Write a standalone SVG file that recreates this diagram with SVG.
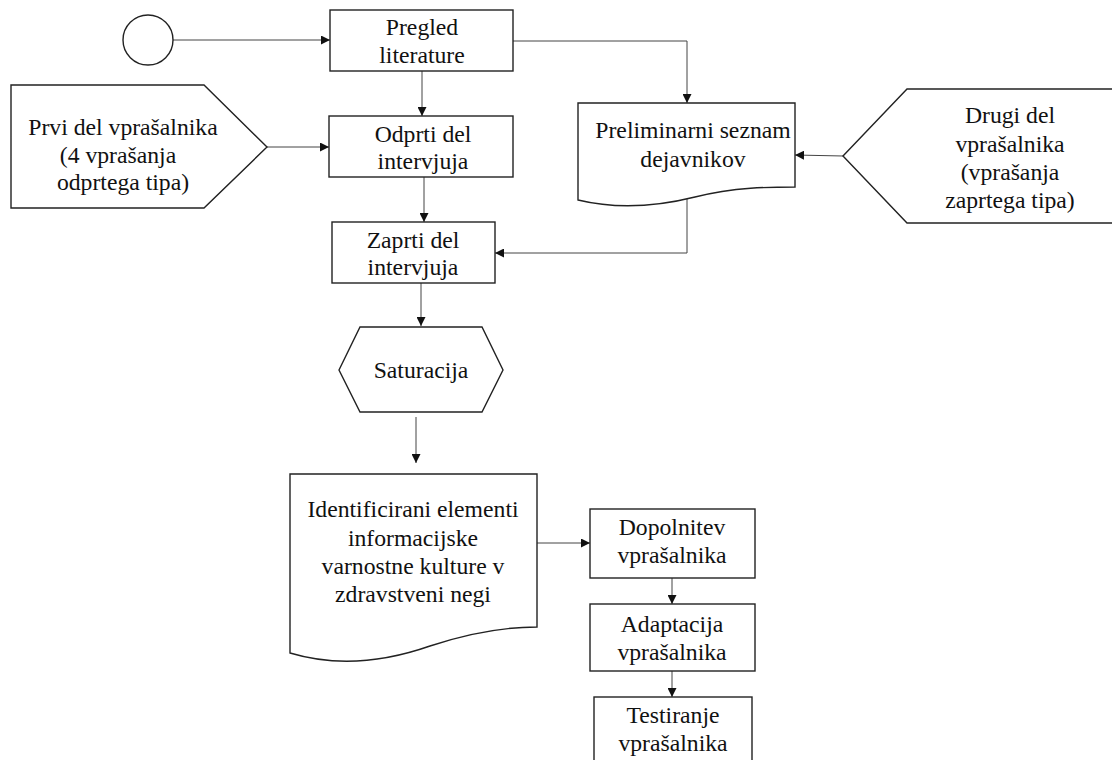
<svg xmlns="http://www.w3.org/2000/svg" width="1112" height="760" viewBox="0 0 1112 760">
  <defs>
    <marker id="arrow" viewBox="0 0 10 10" refX="10" refY="5" markerWidth="9" markerHeight="9" markerUnits="userSpaceOnUse" orient="auto">
      <path d="M0,0 L10,5 L0,10 Z" fill="#111"/>
    </marker>
    <style>
      .shape { fill: #fff; stroke: #222; stroke-width: 1.4; }
      .conn { fill: none; stroke: #444; stroke-width: 1; marker-end: url(#arrow); }
      .lbl { font-family: 'Liberation Serif', 'DejaVu Serif', serif; font-size: 23.7px; fill: #111; text-anchor: middle; }
    </style>
  </defs>
  <rect width="1112" height="760" fill="#fff"/>

  <!-- connectors -->
  <g id="connectors">
    <path class="conn" d="M173,40 L330,40"/>
    <path class="conn" d="M513,41 L687,41 L687,103"/>
    <path class="conn" d="M422,71 L422,116"/>
    <path class="conn" d="M267,147 L329,147"/>
    <path class="conn" d="M843,156 L795,155"/>
    <path class="conn" d="M424,177 L424,222"/>
    <path class="conn" d="M687,197 L687,253 L495,253"/>
    <path class="conn" d="M421,283 L421,326"/>
    <path class="conn" d="M416,417 L416,463"/>
    <path class="conn" d="M537,543 L590,543"/>
    <path class="conn" d="M672,578 L672,604"/>
    <path class="conn" d="M672,671 L672,697"/>
  </g>

  <g class="lbl">
  <!-- start -->
  <g id="start">
    <circle class="shape" cx="148" cy="40" r="25"/>
  </g>

  <g id="pregled">
    <rect class="shape" x="330" y="10" width="183" height="61"/>
    <text x="422" y="35">Pregled</text>
    <text x="422" y="63">literature</text>
  </g>

  <g id="prvi-del">
    <path class="shape" d="M11,85 L204,85 L267,147 L204,208 L11,208 Z"/>
    <text x="123" y="135">Prvi del vprašalnika</text>
    <text x="118" y="163">(4 vprašanja</text>
    <text x="123" y="190">odprtega tipa)</text>
  </g>

  <g id="odprti">
    <rect class="shape" x="329" y="116" width="184" height="61"/>
    <text x="423" y="142">Odprti del</text>
    <text x="423" y="169">intervjuja</text>
  </g>

  <g id="preliminarni">
    <path class="shape" d="M578,103 L795,103 L795,187 C770,187 735,187 695,197 C655,207 615,209 578,200 Z"/>
    <text x="693" y="138">Preliminarni seznam</text>
    <text x="693" y="167">dejavnikov</text>
  </g>

  <g id="drugi-del">
    <path class="shape" d="M843,156 L907,89 L1116,89 L1116,223 L907,223 Z"/>
    <text x="1010" y="123">Drugi del</text>
    <text x="1010" y="152">vprašalnika</text>
    <text x="1010" y="180">(vprašanja</text>
    <text x="1010" y="208">zaprtega tipa)</text>
  </g>

  <g id="zaprti">
    <rect class="shape" x="332" y="222" width="163" height="61"/>
    <text x="413" y="248">Zaprti del</text>
    <text x="413" y="275">intervjuja</text>
  </g>

  <g id="saturacija">
    <path class="shape" d="M339,370 L360,327 L482,327 L503,370 L482,412 L360,412 Z"/>
    <text x="421" y="378">Saturacija</text>
  </g>

  <g id="identificirani">
    <path class="shape" d="M290,474 L537,474 L537,627 C510,627 475,631 430,646 C390,660 340,668 290,653 Z"/>
    <text x="413" y="517">Identificirani elementi</text>
    <text x="413" y="546">informacijske</text>
    <text x="413" y="574">varnostne kulture v</text>
    <text x="413" y="602">zdravstveni negi</text>
  </g>

  <g id="dopolnitev">
    <rect class="shape" x="590" y="509" width="165" height="69"/>
    <text x="672" y="535">Dopolnitev</text>
    <text x="672" y="563">vprašalnika</text>
  </g>

  <g id="adaptacija">
    <rect class="shape" x="590" y="604" width="165" height="67"/>
    <text x="672" y="632">Adaptacija</text>
    <text x="672" y="660">vprašalnika</text>
  </g>

  <g id="testiranje">
    <rect class="shape" x="594" y="697" width="158" height="70"/>
    <text x="673" y="723">Testiranje</text>
    <text x="673" y="751">vprašalnika</text>
  </g>
  </g>
</svg>
